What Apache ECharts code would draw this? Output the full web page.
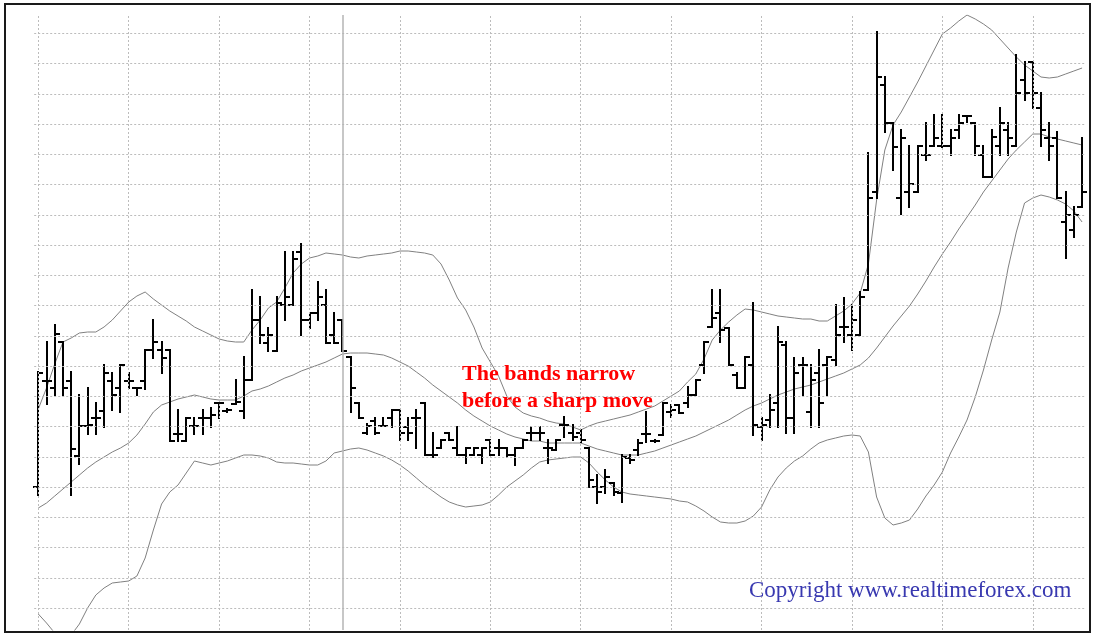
<!DOCTYPE html>
<html>
<head>
<meta charset="utf-8">
<script src="https://cdn.jsdelivr.net/npm/echarts@6/dist/echarts.min.js"></script>
<style>
html,body{margin:0;padding:0;background:#fff;}
#chart{width:1094px;height:635px;}
</style>
</head>
<body>
<div id="chart"></div>
<script>
// Bar numbers (x categories)
const categories = ["1","2","3","4","5","6","7","8","9","10","11","12","13","14","15","16","17","18","19","20","21","22","23","24","25","26","27","28","29","30","31","32","33","34","35","36","37","38","39","40","41","42","43","44","45","46","47","48","49","50","51","52","53","54","55","56","57","58","59","60","61","62","63","64","65","66","67","68","69","70","71","72","73","74","75","76","77","78","79","80","81","82","83","84","85","86","87","88","89","90","91","92","93","94","95","96","97","98","99","100","101","102","103","104","105","106","107","108","109","110","111","112","113","114","115","116","117","118","119","120","121","122","123","124","125","126","127","128"];

// OHLC values (chart units)
const opens = [153,259,252,298,259,184,214,222,229,259,252,259,252,259,290,290,290,206,199,214,
222,222,237,229,236,229,260,320,297,289,335,335,388,320,327,335,305,320,283,237,
207,219,214,222,230,213,222,237,185,192,207,192,185,185,185,200,192,192,185,192,
207,207,192,190,215,207,207,192,153,153,157,147,182,190,206,199,205,228,235,237,
245,275,313,327,312,265,252,275,213,220,237,295,222,275,228,267,275,280,313,305,
305,350,448,555,517,442,448,448,485,494,494,494,510,524,517,485,463,494,510,494,
560,578,532,502,502,418,410,433];
const highs = [268,298,315,298,268,245,252,237,275,267,275,267,252,290,320,298,290,230,222,222,
230,232,237,231,260,283,350,343,312,343,388,388,396,327,358,350,327,320,283,237,
216,222,222,230,230,222,230,237,207,200,207,213,192,192,192,200,200,192,192,200,
213,213,200,200,223,215,210,192,165,170,157,185,185,200,228,200,237,235,235,253,
260,298,350,350,312,267,283,337,222,245,313,298,282,282,275,290,283,335,342,335,
348,487,608,563,517,510,494,494,517,525,525,510,525,524,517,494,510,532,517,585,
578,578,547,517,508,448,433,502];
const lows = [145,236,245,245,145,176,206,206,213,230,228,252,245,251,282,267,199,199,199,206,
206,213,222,228,236,222,260,297,289,289,320,335,305,312,320,297,297,289,228,222,
206,206,214,213,200,200,192,185,183,192,200,185,177,185,177,185,185,183,175,192,
200,200,177,190,203,200,198,153,137,147,145,138,177,185,198,198,205,223,227,233,
245,267,313,298,275,252,252,205,200,213,213,207,207,245,213,213,245,275,298,290,
305,350,442,508,470,426,433,448,480,494,493,485,502,518,485,463,463,485,485,494,
540,532,494,480,442,382,403,433];
const closes = [267,259,306,252,191,214,215,222,267,245,275,259,252,290,298,282,199,206,222,214,
222,225,237,230,238,260,320,305,305,337,343,381,320,327,343,297,297,289,252,222,
214,207,214,230,207,207,222,185,185,200,200,185,192,192,192,185,192,185,192,200,
207,207,192,200,215,203,200,160,148,163,148,183,180,197,206,199,237,230,227,245,
260,298,322,310,275,252,283,215,215,230,298,222,267,275,260,237,283,305,313,320,
343,442,563,517,493,502,456,494,485,502,494,502,517,524,494,463,503,517,502,547,
547,547,510,494,442,425,425,448];

// Bollinger bands (chart units)
const upperBand = [231,252,276,298,302,307,308,308,313,320,
329,338,344,348,341,335,329,324,319,313,
309,305,301,299,298,298,310,320,332,338,
352,367,376,382,384,387,386,385,383,382,
384,385,386,387,389,389,388,387,385,376,
360,342,330,313,292,278,264,244,233,227,
224,222,219,217,216,213,210,214,217,219,
221,223,225,228,231,234,239,244,249,258,
266,281,300,310,318,325,331,330,328,326,
324,323,322,321,321,319,319,324,329,336,
347,376,440,490,515,528,543,558,574,590,
606,612,619,625,621,616,610,601,592,583,
575,569,563,562,563,566,569,572];
const middleBand = [132,137,144,151,158,165,172,178,183,188,
192,197,205,216,228,235,238,241,243,245,
243,241,240,240,240,244,249,251,254,258,
262,265,269,272,275,278,282,286,287,287,
287,286,285,282,278,274,268,262,255,249,
243,237,230,224,219,214,210,206,203,201,
199,199,197,197,197,197,197,194,191,189,
187,185,185,185,187,189,192,195,198,201,
204,208,212,216,220,225,230,234,237,241,
245,248,251,253,255,258,261,264,267,271,
275,282,292,303,314,324,334,346,359,373,
386,398,411,423,435,448,459,470,481,490,
498,506,506,503,501,499,497,495];
const lowerBand = [26,17,7,0,5,16,32,45,52,57,
58,59,64,82,110,136,148,155,167,179,
177,175,177,179,182,185,185,184,182,178,
177,177,176,175,175,179,187,189,191,192,
190,187,184,180,175,169,162,155,149,143,
138,135,133,134,135,138,145,153,159,165,
172,178,180,181,182,183,183,177,168,160,
153,148,146,145,144,143,142,141,139,138,
134,129,123,118,117,117,119,124,133,150,
163,172,179,184,191,197,200,202,204,205,
204,188,143,122,115,117,120,131,144,155,
168,187,203,220,243,270,300,328,372,408,
437,442,445,443,440,436,429,418];

// Grid levels (value axis) and vertical grid positions (bar index)
const hGridLevels = [606.5,576.5,545.5,515.5,485.5,455.5,424.5,394.5,364.5,334.5,303.5,273.5,243.5,213.5,182.5,152.5,122.5,92.5,61.5,31.5];
const vGridBars = [0,11,22,33,44,55,66,77,88,99,110,121];
const markerBar = 37;

const ohlcData = categories.map((c, i) => [i, opens[i], closes[i], lows[i], highs[i]]);

const chart = echarts.init(document.getElementById('chart'), null, {renderer: 'canvas'});

const dotted = {color: '#bcbcbc', type: [2, 2], width: 1};

const option = {
  animation: false,
  backgroundColor: '#ffffff',
  grid: {left: 34.2, right: 7.8, top: 15, bottom: 5, containLabel: false},
  xAxis: {type: 'category', data: categories, boundaryGap: true, show: false},
  yAxis: {type: 'value', min: 10, max: 625, show: false, splitLine: {show: false}},
  series: [
    {
      name: 'grid', type: 'line', data: [], z: 0, silent: true,
      markLine: {
        silent: true, symbol: ['none', 'none'], label: {show: false},
        emphasis: {disabled: true},
        lineStyle: dotted,
        data: hGridLevels.map(v => ({yAxis: v}))
          .concat(vGridBars.map(i => ({xAxis: i})))
          .concat([{xAxis: markerBar, lineStyle: {color: '#b4b4b4', type: 'solid', width: 1.5}}])
      }
    },
    {name: 'Upper', type: 'line', data: upperBand, symbol: 'none', z: 2, silent: true,
     lineStyle: {color: '#808080', width: 1}},
    {name: 'Middle', type: 'line', data: middleBand, symbol: 'none', z: 2, silent: true,
     lineStyle: {color: '#808080', width: 1}},
    {name: 'Lower', type: 'line', data: lowerBand, symbol: 'none', z: 2, silent: true,
     lineStyle: {color: '#808080', width: 1}},
    {
      name: 'Price', type: 'custom', z: 3, silent: true,
      encode: {x: 0, y: [1, 2, 3, 4]},
      data: ohlcData,
      renderItem: function (params, api) {
        const i = api.value(0);
        const o = api.coord([i, api.value(1)]);
        const c = api.coord([i, api.value(2)]);
        const l = api.coord([i, api.value(3)]);
        const h = api.coord([i, api.value(4)]);
        const x = Math.round(h[0]);
        const tick = 4;
        const st = {stroke: '#000', lineWidth: 2};
        const oy = Math.round(o[1]), cy = Math.round(c[1]);
        return {
          type: 'group',
          children: [
            {type: 'line', shape: {x1: x, y1: Math.round(h[1]) - 1, x2: x, y2: Math.round(l[1]) + 1}, style: st},
            {type: 'line', shape: {x1: x - tick - 1, y1: oy, x2: x, y2: oy}, style: st},
            {type: 'line', shape: {x1: x, y1: cy, x2: x + tick + 1, y2: cy}, style: st}
          ]
        };
      }
    }
  ],
  graphic: [
    {type: 'rect', z: 100, silent: true,
     shape: {x: 5, y: 4, width: 1085, height: 628},
     style: {fill: 'none', stroke: '#1a1a1a', lineWidth: 2}},
    {type: 'text', z: 100, left: 462, top: 363, silent: true,
     style: {text: 'The bands narrow', fill: '#ff0000', font: 'bold 22px "Liberation Serif", "DejaVu Serif", serif'}},
    {type: 'text', z: 100, left: 462, top: 390, silent: true,
     style: {text: 'before a sharp move', fill: '#ff0000', font: 'bold 22px "Liberation Serif", "DejaVu Serif", serif'}},
    {type: 'text', z: 100, left: 749, top: 579, silent: true,
     style: {text: 'Copyright www.realtimeforex.com', fill: '#3838b0', font: '23px "Liberation Serif", "DejaVu Serif", serif'}}
  ]
};

chart.setOption(option);
</script>
</body>
</html>
